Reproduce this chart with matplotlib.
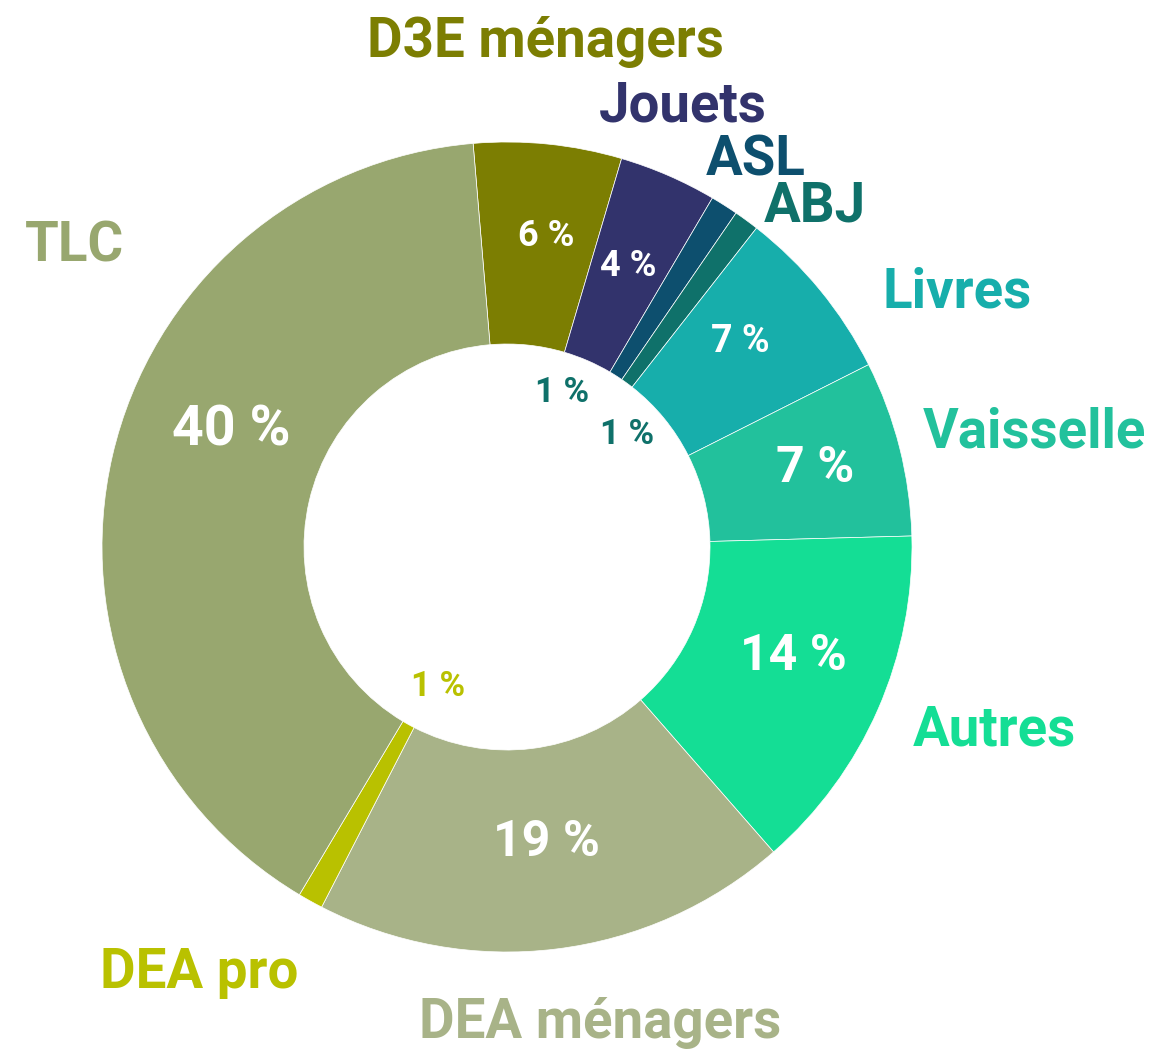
import matplotlib
matplotlib.use("Agg")
import matplotlib.pyplot as plt

plt.rcParams['font.family'] = ['Roboto', 'DejaVu Sans']

# Slices, clockwise from the top
categories = ["D3E ménagers", "Jouets", "ASL", "ABJ", "Livres", "Vaisselle",
              "Autres", "DEA ménagers", "DEA pro", "TLC"]
shares = [5.9, 3.9, 1.1, 1.0, 7.0, 7.0, 14.0, 19.0, 1.0, 40.1]
colors = ["#7c7e02", "#32336c", "#0d4f6e", "#0f716a", "#17aeab", "#22c19c",
          "#14de95", "#a8b388", "#b9c100", "#98a76f"]

W, H = 1154, 1051

# label placement in pixels (x, y from top)
name_pos = [(545, 57), (683, 122), (756, 176), (815, 222), (957, 307),
            (1034, 447), (994, 746), (600, 1038), (199, 988), (75, 262)]
pct_pos = [(546, 236), (628, 266), (562, 393), (627, 435), (740, 342),
           (815, 468), (793, 656), (546, 843), (438, 686), (231, 430)]
pct_size = [26, 26, 25, 25, 27, 36, 36, 36, 25, 40]
in_hole = [False, False, True, True, False, False, False, False, True, False]

fig = plt.figure(figsize=(W / 100, H / 100), dpi=100)
ax = fig.add_axes([0, 0, 1, 1])

R = 405
ax.pie(shares, colors=colors, startangle=94.8, counterclock=False,
       center=(507, H - 547), radius=R,
       wedgeprops=dict(width=R - 203, edgecolor='white', linewidth=0.5))

# pie() resets the limits, so set them afterwards
ax.set_xlim(0, W)
ax.set_ylim(0, H)
ax.set_aspect('equal')
ax.axis('off')

for i, name in enumerate(categories):
    x, y = name_pos[i]
    ax.text(x, H - y, name, color=colors[i], fontsize=39.3, fontweight='bold',
            ha='center', va='baseline')

    px, py = pct_pos[i]
    col = colors[i] if in_hole[i] else 'white'
    if i == 2:
        col = colors[3]
    ax.text(px, H - py, f"{round(shares[i])} %", color=col, fontsize=pct_size[i],
            fontweight='bold', ha='center', va='center')

fig.savefig("out.png", dpi=100)
